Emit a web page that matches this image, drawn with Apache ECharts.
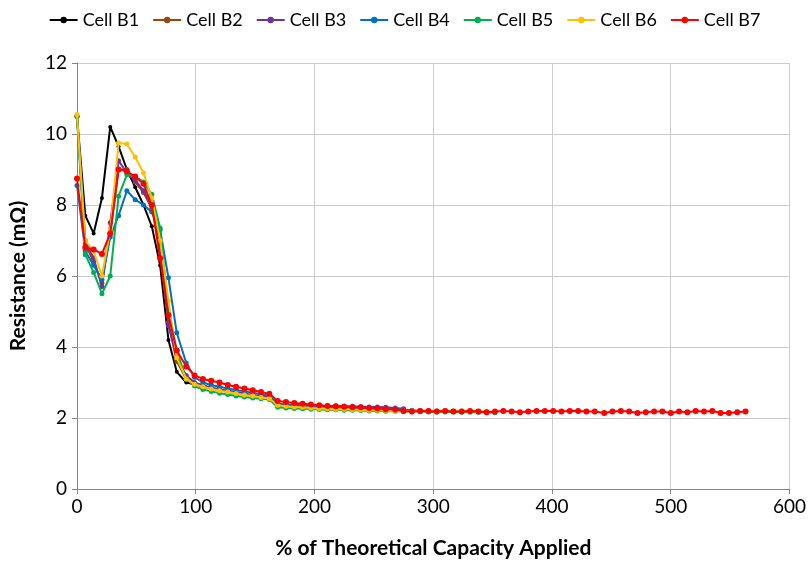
<!DOCTYPE html>
<html><head><meta charset="utf-8">
<script src="https://cdn.jsdelivr.net/npm/echarts@6/dist/echarts.min.js"></script>
<style>html,body{margin:0;padding:0;background:#fff}#c{width:809px;height:565px}</style>
</head><body><div id="c"></div>
<script>
const capacity = [0,7,14,21,28,35,42,49,56,63,
70,77,84,92,99,106,113,120,127,134,
141,148,155,162,169,176,183,190,197,204,
211,218,225,232,239,246,253,260,268,275,
282,289,296,303,310,317,324,331,338,345,
352,359,366,373,380,387,394,401,408,415,
422,429,436,444,451,458,465,472,479,486,
493,500,507,514,521,528,535,542,549,556,563];

const cellB1 = [10.5,7.7,7.2,8.2,10.2,9.65,9.0,8.5,8.0,7.4,6.3,4.2,3.3,3.0,2.95];
const cellB2 = [10.5,6.9,6.4,5.8,7.2,9.0,9.0,8.65,8.35,7.9,6.9,4.7,3.6,3.1,2.95,
2.88,2.83,2.78,2.74,2.7,2.66,2.62,2.59,2.56,
2.36,2.34,2.33,2.32,2.31,2.3,2.3,2.29,2.28,2.28,2.27,2.26,2.26,2.25,2.24,2.24];
const cellB3 = [10.5,7.0,6.5,5.7,7.5,9.25,8.9,8.7,8.4,8.0,6.8,4.6,3.7,3.2,3.0,
2.92,2.86,2.81,2.77,2.73,2.69,2.65,2.62,2.59,
2.4,2.38,2.37,2.36,2.35,2.35,2.34,2.34,2.33,2.33,2.32,2.31,2.31,2.3,2.28,2.26];
const cellB4 = [8.55,6.7,6.3,5.9,7.1,7.7,8.4,8.15,8.0,7.8,7.3,5.95,4.4,3.55,3.15,
3.0,2.93,2.88,2.83,2.79,2.75,2.71,2.67,2.63,
2.4,2.37,2.35,2.34,2.33,2.32,2.31,2.3,2.3,2.29,2.28,2.28,2.27,2.26,2.25,2.24,
2.22,2.21,2.2,2.2,2.19,2.19,2.18,2.18,2.18];
const cellB5 = [10.5,6.6,6.1,5.5,6.0,8.25,8.85,8.8,8.65,8.3,7.35,5.0,3.9,3.1,2.9,
2.8,2.75,2.7,2.66,2.62,2.59,2.56,2.54,2.52,
2.3,2.28,2.27,2.26,2.25,2.24,2.23,2.23,2.22,2.22,2.21,2.2,2.2,2.19,2.19,2.18,
2.18,2.18,2.17,2.17,2.17,2.17,2.16,2.16,2.16,2.16,2.15];
const cellB6 = [10.55,7.0,6.7,6.0,7.3,9.75,9.72,9.35,8.9,8.2,7.0,5.3,3.7,3.1,2.95,
2.88,2.82,2.77,2.73,2.69,2.65,2.62,2.58,2.55,
2.36,2.33,2.31,2.3,2.28,2.27,2.26,2.25,2.25,2.24,2.23,2.22,2.22,2.21,2.2,2.2,
2.2,2.2,2.2,2.19,2.19,2.2,2.2,2.19,2.19,2.19];
const cellB7 = [8.75,6.8,6.75,6.62,7.2,9.0,8.95,8.8,8.6,8.0,6.5,4.9,3.9,3.45,3.2,
3.1,3.05,3.0,2.93,2.88,2.83,2.78,2.73,2.68,
2.48,2.45,2.42,2.4,2.38,2.36,2.34,2.33,2.32,2.3,2.3,2.28,2.27,2.25,2.24,
2.2,2.18,2.2,2.2,2.18,2.2,2.18,2.18,2.2,2.18,2.16,2.18,2.2,2.18,2.16,2.18,2.2,2.2,2.2,2.18,
2.2,2.2,2.18,2.18,2.14,2.18,2.2,2.18,2.14,2.16,2.18,2.18,2.14,2.18,2.16,2.2,2.18,2.2,2.14,2.14,2.16,2.18];

const names = ['Cell B1','Cell B2','Cell B3','Cell B4','Cell B5','Cell B6','Cell B7'];
const colors = ['#000000','#984807','#7030A0','#0070C0','#00B050','#FFC000','#FF0000'];
const sizes = [4,5,5,5,5,5,6];
const seriesValues = [cellB1,cellB2,cellB3,cellB4,cellB5,cellB6,cellB7];

const font = 'Lato, "Open Sans", sans-serif';
const chart = echarts.init(document.getElementById('c'), null, {renderer:'canvas'});
chart.setOption({
  animation:false,
  color:colors,
  textStyle:{fontFamily:font},
  legend:{
    top:6, left:'center', itemGap:13, itemWidth:28, itemHeight:8,
    textStyle:{fontFamily:font, fontSize:18, color:'#000'},
    data:names
  },
  grid:{left:77, right:19, top:63, bottom:76, containLabel:false},
  xAxis:{
    type:'value', min:0, max:600, interval:100,
    name:'% of Theoretical Capacity Applied', nameLocation:'middle', nameGap:49,
    nameTextStyle:{fontFamily:font, fontSize:21, fontWeight:'bold', color:'#000'},
    axisLine:{show:true, lineStyle:{color:'#868686', width:1}},
    axisTick:{show:true, length:5, lineStyle:{color:'#868686'}},
    axisLabel:{fontFamily:font, fontSize:19, color:'#000', margin:8},
    splitLine:{show:true, lineStyle:{color:'#cccccc', width:1}}
  },
  yAxis:{
    type:'value', min:0, max:12, interval:2,
    name:'Resistance (mΩ)', nameLocation:'middle', nameGap:48,
    nameTextStyle:{fontFamily:font, fontSize:21, fontWeight:'bold', color:'#000'},
    axisLine:{show:true, lineStyle:{color:'#868686', width:1}},
    axisTick:{show:true, length:5, lineStyle:{color:'#868686'}},
    axisLabel:{fontFamily:font, fontSize:19, color:'#000', margin:10},
    splitLine:{show:true, lineStyle:{color:'#cccccc', width:1}}
  },
  series: names.map((n,i)=>({
    name:n, type:'line',
    data: seriesValues[i].map((v,j)=>[capacity[j], v]),
    symbol:'circle', symbolSize:sizes[i], showSymbol:true,
    lineStyle:{width:2, color:colors[i]},
    itemStyle:{color:colors[i]},
    z:2+i
  }))
});
</script>
</body></html>
